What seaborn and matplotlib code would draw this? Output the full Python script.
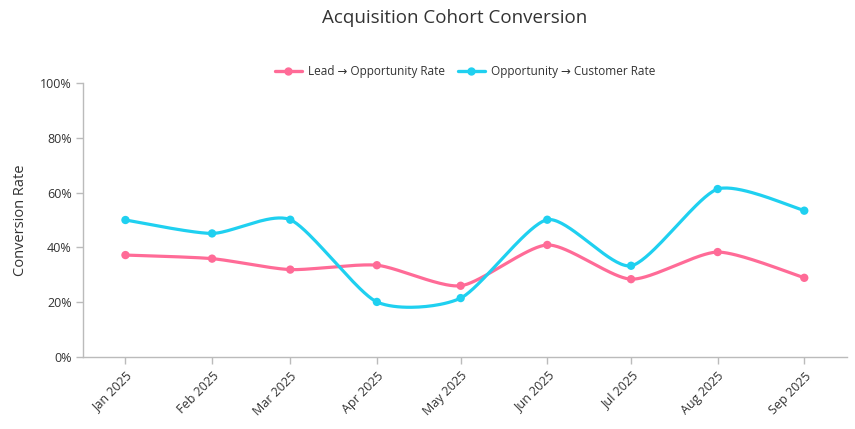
import numpy as np
import pandas as pd
import matplotlib
matplotlib.use("Agg")
import matplotlib.pyplot as plt
import matplotlib.dates as mdates
from matplotlib.ticker import FuncFormatter, FixedLocator
from matplotlib.lines import Line2D
import seaborn as sns

months = ["2025-01-01", "2025-02-01", "2025-03-01", "2025-04-01", "2025-05-01",
          "2025-06-01", "2025-07-01", "2025-08-01", "2025-09-01"]
month_labels = ["Jan 2025", "Feb 2025", "Mar 2025", "Apr 2025", "May 2025",
                "Jun 2025", "Jul 2025", "Aug 2025", "Sep 2025"]
lead_to_opp = [37.2, 35.9, 31.9, 33.5, 26.0, 40.9, 28.4, 38.3, 28.9]
opp_to_cust = [50.0, 45.1, 50.1, 20.1, 21.5, 50.1, 33.3, 61.3, 53.4]
series_names = ["Lead \u2192 Opportunity Rate", "Opportunity \u2192 Customer Rate"]
colors = ["#ff6b97", "#1fd0f0"]

sns.set_theme(style="white")
plt.rcParams["font.family"] = ["Open Sans", "DejaVu Sans"]

dates = pd.to_datetime(months)
xnum = mdates.date2num(dates)


def cardinal(x, y, c=0.35, n=40):
    x = np.asarray(x, float)
    y = np.asarray(y, float)
    px = np.concatenate([[x[0]], x, [x[-1]]])
    py = np.concatenate([[y[0]], y, [y[-1]]])
    ox, oy = [], []
    for i in range(1, len(px) - 2):
        t = np.linspace(0, 1, n, endpoint=(i == len(px) - 3))
        h00 = 2 * t**3 - 3 * t**2 + 1
        h10 = t**3 - 2 * t**2 + t
        h01 = -2 * t**3 + 3 * t**2
        h11 = t**3 - t**2
        for arr, out in ((px, ox), (py, oy)):
            p0, p1, p2, p3 = arr[i - 1], arr[i], arr[i + 1], arr[i + 2]
            m1 = c * (p2 - p0)
            m2 = c * (p3 - p1)
            out.append(h00 * p1 + h10 * m1 + h01 * p2 + h11 * m2)
    return np.concatenate(ox), np.concatenate(oy)


fig = plt.figure(figsize=(8.55, 4.29), dpi=100)
ax = fig.add_axes([83 / 855, 72 / 429, 764 / 855, 274 / 429])

for vals, name, col in zip([lead_to_opp, opp_to_cust], series_names, colors):
    sx, sy = cardinal(xnum, vals)
    curve = pd.DataFrame({"x": sx, "y": sy})
    sns.lineplot(data=curve, x="x", y="y", ax=ax, color=col, linewidth=2.3,
                 sort=False, estimator=None, zorder=2)
    pts = pd.DataFrame({"x": xnum, "y": vals})
    sns.scatterplot(data=pts, x="x", y="y", ax=ax, color=col, s=36,
                    edgecolor="none", zorder=3)

ax.set_ylim(0, 100)
ax.set_xlim(xnum[0] - 15.2, xnum[-1] + 15.3)
ax.yaxis.set_major_locator(FixedLocator([0, 20, 40, 60, 80, 100]))
ax.yaxis.set_major_formatter(FuncFormatter(lambda v, p: f"{int(v)}%"))
ax.set_xticks(xnum)
ax.set_xticklabels(month_labels, rotation=45, ha="right", rotation_mode="anchor")
ax.set_xlabel("")
ax.set_ylabel("Conversion Rate", fontsize=10.5, color="#333333", labelpad=9)

for s in ["top", "right"]:
    ax.spines[s].set_visible(False)
for s in ["left", "bottom"]:
    ax.spines[s].set_color("#bbbbbb")
    ax.spines[s].set_linewidth(1.0)
ax.tick_params(axis="both", which="major", length=5, width=1, color="#bbbbbb",
               labelsize=9, labelcolor="#333333", left=True, bottom=True)
ax.tick_params(axis="x", pad=4)
ax.tick_params(axis="y", pad=3)
ax.grid(False)

handles = [Line2D([0], [0], color=c, linewidth=2.4, marker="o", markersize=5)
           for c in colors]
fig.legend(handles, series_names, loc="center", bbox_to_anchor=(465 / 855, 1 - 72 / 429),
           ncol=2, frameon=False, fontsize=8.5, handlelength=2.3, handletextpad=0.5,
           columnspacing=1.1, labelcolor="#333333")

fig.suptitle("Acquisition Cohort Conversion", x=455 / 855, y=1 - 18 / 429,
             va="center", fontsize=13.5, color="#333333")

fig.savefig("out.png", dpi=100)
